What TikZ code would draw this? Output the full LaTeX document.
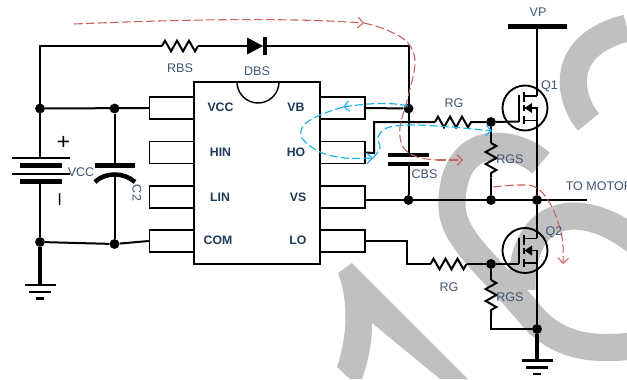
\documentclass[tikz,border=0pt]{standalone}
\usepackage{fontspec}
\setmainfont{Liberation Sans}
\usetikzlibrary{arrows.meta,decorations.pathmorphing}
\definecolor{wm}{HTML}{C0C0C0}
\definecolor{lab}{HTML}{3F5573}
\definecolor{blab}{HTML}{1F3A5A}
\definecolor{reddash}{HTML}{C9605A}
\definecolor{bluedash}{HTML}{1FB4F0}
\tikzset{
  wire/.style={line width=1.5pt,line join=miter},
  thickwire/.style={line width=2.5pt},
  plate/.style={line width=3.4pt},
  thinplate/.style={line width=1.7pt},
  pinbox/.style={draw,line width=1.1pt,minimum width=33.75pt,minimum height=16.5pt,inner sep=0pt},
  icbox/.style={draw,line width=1.1pt,minimum width=94.5pt,minimum height=136.5pt,inner sep=0pt},
  dot/.style={circle,fill=black,inner sep=0pt,minimum size=7.4pt},
  res/.style={wire,decorate,decoration={zigzag,segment length=9pt,amplitude=4pt}},
  lbl/.style={text=lab,inner sep=0pt,font=\fontsize{9.4}{11}\selectfont},
  blbl/.style={text=blab,inner sep=0pt,font=\fontsize{9.2}{11}\selectfont\bfseries},
  wmark/.style={draw=wm,line width=20.4pt,line cap=butt},
  rdash/.style={draw=reddash,line width=0.8pt,dash pattern=on 6.5pt off 2.5pt},
  bdash/.style={draw=bluedash,line width=0.9pt,dash pattern=on 6pt off 2.5pt},
  vtip/.style={-{Straight Barb[length=4pt,width=8pt]}},
  mos/.pic={
    \draw[line width=1.4pt] (0,0) circle[radius=22.5];
    \draw[line width=1.4pt] (-6,-13) -- (-6,13.5);
    \draw[line width=1.4pt] (-1,-16) -- (-1,-6) (-1,-3) -- (-1,3) (-1,8) -- (-1,16);
    \draw[line width=1.4pt] (-1,-12) -- (12,-12) (-1,12.5) -- (12,12.5) (-1,0) -- (12,0) -- (12,12.5);
    \fill (-0.5,0) -- (7,-5) -- (7,5) -- cycle;
    \coordinate (-g) at (-6,13.5);
    \coordinate (-d) at (12,-12);
    \coordinate (-s) at (12,12.5);
  },
  gnd/.pic={
    \draw[line width=2pt] (-15.5,0) -- (15.5,0) (-11,7) -- (11,7) (-4,13.5) -- (4,13.5);
  }
}
\begin{document}
\begin{tikzpicture}[x=0.75pt,y=-0.75pt]
\clip (0,0) rectangle (627,379);
% watermark
\draw[wmark] (588.5,122) .. controls (568,98) and (558,45) .. (627,28);
\draw[wmark] (541,163) .. controls (515,140) and (452,130) .. (452,205)
   .. controls (452,240) and (490,265) .. (535,320)
   .. controls (560,345) and (590,352) .. (640,345);
\draw[wmark] (640,245) .. controls (585,198) and (520,205) .. (522,290);
\fill[wm] (352,263) -- (468,379) -- (440,379) -- (372,323)
   .. controls (372,345) and (368,362) .. (362,379) -- (350,379) -- (337,367)
   .. controls (346,340) and (350,305) .. (338,273) -- cycle;

% IC
\node[pinbox] (p1) at (172,108) {};
\node[pinbox] (p2) at (172,152.5) {};
\node[pinbox] (p3) at (172,197) {};
\node[pinbox] (p4) at (172,241) {};
\node[pinbox] (p5) at (342.5,108) {};
\node[pinbox] (p6) at (342.5,152.5) {};
\node[pinbox] (p7) at (342.5,197) {};
\node[pinbox] (p8) at (342.5,241) {};
\node[icbox] (ic) at (257,173) {};
\draw[line width=1.1pt] (237,82) arc[start angle=180,end angle=0,radius=21];
\node[blbl] (tvcc) at (220.5,107) {VCC};
\node[blbl] (thin) at (220.5,152) {HIN};
\node[blbl] (tlin) at (220,197) {LIN};
\node[blbl] (tcom) at (218,240.5) {COM};
\node[blbl] (tvb) at (296,107) {VB};
\node[blbl] (tho) at (296,152) {HO};
\node[blbl] (tvs) at (298,197) {VS};
\node[blbl] (tlo) at (298,240.5) {LO};

% junctions
\node[dot] (j1) at (40,108.5) {};
\node[dot] (j2) at (114.5,108.5) {};
\node[dot] (j3) at (40,242) {};
\node[dot] (j4) at (114.5,244) {};
\node[dot] (j5) at (408.5,108.5) {};
\node[dot] (j6) at (491,122) {};
\node[dot] (j7) at (408.5,200) {};
\node[dot] (j8) at (491,200) {};
\node[dot] (j9) at (537,200) {};
\node[dot] (j10) at (491,264) {};
\node[dot] (j11) at (537,329) {};

% MOSFETs
\pic (Q1) at (525,108) {mos};
\pic (Q2) at (525,250.5) {mos};

% helper coordinates
\coordinate (tl) at (40,46);
\coordinate (rbsa) at (162,46);
\coordinate (rbsb) at (198,46);
\coordinate (da) at (247,46);
\coordinate (dk) at (264.5,46);
\coordinate (tr) at (408.5,46);
\coordinate (batt) at (40,158);
\coordinate (batb) at (40,182);
\coordinate (captop) at (114.5,166);
\coordinate (capbot) at (114.5,174);
\coordinate (gl) at (40,285);
\coordinate (gr) at (537,360.5);
\coordinate (vp) at (537,26.5);
\coordinate (cbst) at (408.5,155);
\coordinate (cbsb) at (408.5,164);
\coordinate (hoa) at (374,153);
\coordinate (hob) at (374,122);
\coordinate (rga) at (435,122);
\coordinate (rgb) at (472,122);
\coordinate (rgsa) at (491,143);
\coordinate (rgsb) at (491,177.5);
\coordinate (loa) at (406.5,241);
\coordinate (lob) at (406.5,264);
\coordinate (rlc) at (430.5,264);
\coordinate (rld) at (466.5,264);
\coordinate (rgsc) at (491,280);
\coordinate (rgsd) at (491,315);
\coordinate (rgse) at (491,329);
\coordinate (vso) at (365,200);
\coordinate (mot) at (587,200);

% left part
\draw[wire] (batt) -- (tl) -- (rbsa);
\draw[res] (rbsa) -- (rbsb);
\draw[wire] (rbsb) -- (da);
\fill (247,37.5) -- (263,46) -- (247,54.5) -- cycle;
\draw[line width=2.3pt] (265,37) -- (265,54.5);
\draw[wire] (dk) -- (tr) -- (cbst);
\draw[wire] (j1) -- (p1.west);
\draw[wire] (j2) -- (captop);
\draw[wire] (capbot) -- (j4);
\draw[wire] (batb) -- (j3);
\draw[wire] (j3) -- (j4) -- (p4.west);
\draw[thickwire] (j3) -- (gl);
\pic at (gl) {gnd};
\draw[thinplate] (12,157.7) -- (70,157.7);
\draw[plate] (20,165.7) -- (61.5,165.7);
\draw[thinplate] (12,173.7) -- (70,173.7);
\draw[plate] (20,181.7) -- (61.5,181.7);
\draw[plate] (94.5,165.7) -- (135,165.7);
\draw[line width=3.4pt] (95,182) .. controls (105,172) and (124,172) .. (135,182);

% right part
\draw[wire] (p5.east) -- (j5);
\draw[wire] (p6.east) -- (hoa) -- (hob) -- (rga);
\draw[res] (rga) -- (rgb);
\draw[wire] (rgb) -- (j6) -- (Q1-g);
\draw[wire] (j6) -- (rgsa);
\draw[res] (rgsa) -- (rgsb);
\draw[wire] (rgsb) -- (j8);
\draw[plate] (388,155) -- (429,155);
\draw[plate] (388,164) -- (429,164);
\draw[wire] (cbsb) -- (j7);
\draw[wire] (vso) -- (mot);
\draw[wire] (vp) -- (537,96);
\draw[wire] (537,108) -- (j9);
\draw[line width=3.8pt] (508,26.5) -- (567,26.5);
\draw[wire] (j9) -- (537,238);
\draw[wire] (537,250.5) -- (j11);
\draw[wire] (p8.east) -- (loa) -- (lob) -- (rlc);
\draw[res] (rlc) -- (rld);
\draw[wire] (rld) -- (j10) -- (Q2-g);
\draw[wire] (j10) -- (rgsc);
\draw[res] (rgsc) -- (rgsd);
\draw[wire] (rgsd) -- (rgse) -- (j11);
\draw[thickwire] (j11) -- (gr);
\pic at (gr) {gnd};

% dashed current paths
\draw[rdash,vtip] (74,24) .. controls (170,20) and (280,17) .. (364,23);
\draw[rdash] plot[smooth,tension=0.6] coordinates {(364,23) (387,30) (408,43) (415,63) (408,97) (400,127) (403,147) (417,157) (437,160)};
\draw[rdash,vtip] (437,160) -- (463,160);
\draw[rdash,vtip] plot[smooth,tension=0.6] coordinates {(493,187) (520,185) (537,188) (552,207) (562,237) (563,264)};
\draw[bdash,vtip] (408,106) .. controls (390,102) and (370,103) .. (343,107);
\draw[bdash,vtip] plot[smooth,tension=0.6] coordinates {(343,107) (320,115) (304,125) (302,138) (320,152) (345,158) (373,158)};
\draw[bdash,vtip] plot[smooth,tension=0.6] coordinates {(373,158) (380,148) (378,137) (387,128) (407,125) (437,126) (463,128) (492,131)};

% labels
\node[lbl] (lrbs) at (180,68) {RBS};
\node[lbl] (ldbs) at (257,71) {DBS};
\node[lbl] (lvcc) at (81,172) {VCC};
\node[lbl,rotate=-90] (lc2) at (137,193) {C2};
\node[text=black,inner sep=0pt,font=\fontsize{17}{18}\selectfont] (lplus) at (63.5,142.5) {+};
\node[text=black,inner sep=0pt,rotate=90,font=\fontsize{16}{18}\selectfont] (lminus) at (62,199.5) {–};
\node[lbl] (lrg1) at (454,103) {RG};
\node[lbl] (lcbs) at (424.5,174.5) {CBS};
\node[lbl] (lrgs1) at (510,159.5) {RGS};
\node[lbl] (lvp) at (538,12.5) {VP};
\node[lbl] (lq1) at (549.5,86) {Q1};
\node[lbl] (lq2) at (554,232.5) {Q2};
\node[lbl,anchor=west] (lmot) at (565.5,186.5) {TO MOTOR};
\node[lbl] (lrg2) at (449,287.5) {RG};
\node[lbl] (lrgs2) at (510,297.5) {RGS};
\end{tikzpicture}
\end{document}
